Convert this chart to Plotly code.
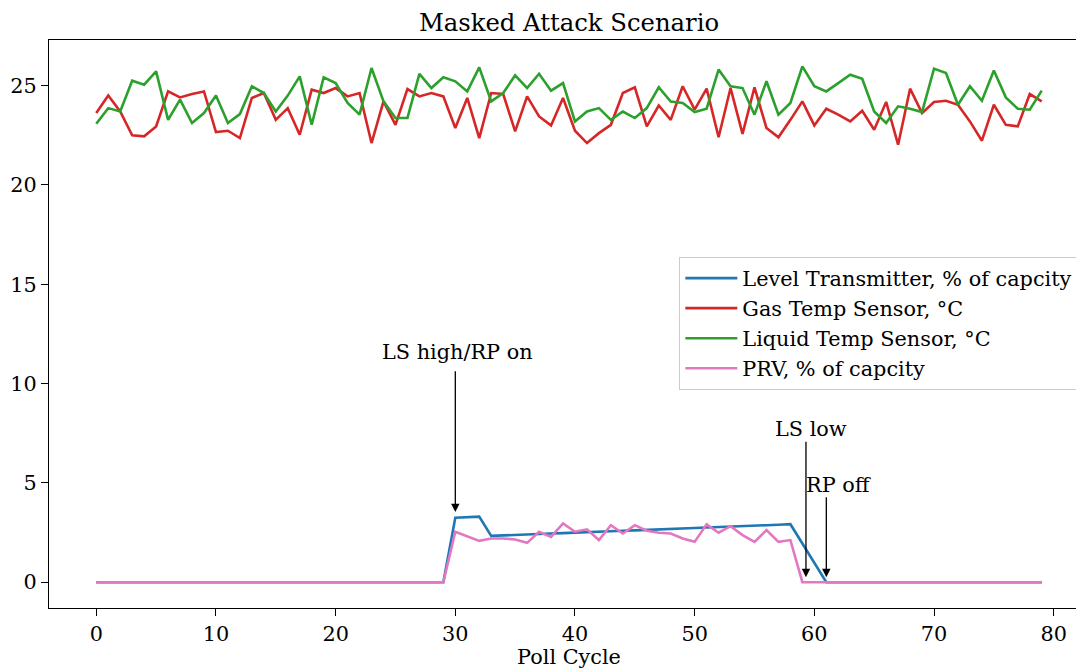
import plotly.graph_objects as go

poll_cycle = list(range(80))

level_transmitter = [0.0] * 30 + [
    3.25, 3.27, 3.30, 2.33, 2.36, 2.38, 2.40, 2.43, 2.45, 2.47,
    2.50, 2.52, 2.54, 2.57, 2.59, 2.61, 2.64, 2.66, 2.68, 2.71,
    2.73, 2.75, 2.78, 2.80, 2.82, 2.85, 2.87, 2.89, 2.92, 1.95,
    0.97, 0.0] + [0.0] * 18

gas_temp = [
    23.62, 24.51, 23.70, 22.50, 22.45, 22.95, 24.71, 24.41, 24.58, 24.71,
    22.66, 22.73, 22.36, 24.38, 24.63, 23.28, 23.87, 22.53, 24.80, 24.63,
    24.88, 24.46, 24.63, 22.11, 24.21, 23.03, 24.83, 24.46, 24.63, 24.46,
    22.87, 24.38, 22.36, 24.63, 24.58, 22.70, 24.46, 23.45, 23.00, 24.38,
    22.73, 22.11, 22.61, 23.03, 24.63, 24.92, 22.95, 24.00, 23.28, 24.97,
    23.79, 24.85, 22.40, 24.88, 22.57, 24.92, 22.87, 22.40, 23.28, 24.21,
    23.00, 23.84, 23.54, 23.20, 23.74, 22.78, 24.18, 22.03, 24.85, 23.62,
    24.18, 24.24, 24.04, 23.20, 22.23, 24.04, 23.03, 22.95, 24.58, 24.21]

liquid_temp = [
    23.08, 23.87, 23.70, 25.25, 25.05, 25.72, 23.28, 24.30, 23.12, 23.62,
    24.51, 23.12, 23.57, 24.97, 24.63, 23.70, 24.50, 25.47, 23.03, 25.42,
    25.13, 24.13, 23.54, 25.89, 24.21, 23.37, 23.37, 25.59, 24.88, 25.42,
    25.22, 24.71, 25.92, 24.21, 24.63, 25.52, 24.88, 25.60, 24.75, 25.13,
    23.20, 23.70, 23.87, 23.28, 23.70, 23.37, 23.87, 24.92, 24.20, 24.13,
    23.67, 23.84, 25.81, 24.97, 24.88, 23.54, 25.22, 23.54, 24.13, 25.97,
    24.97, 24.71, 25.13, 25.55, 25.35, 23.70, 23.12, 23.96, 23.84, 23.67,
    25.86, 25.64, 24.04, 24.97, 24.24, 25.76, 24.41, 23.84, 23.79, 24.75]

prv = [0.0] * 30 + [
    2.54, 2.30, 2.08, 2.20, 2.20, 2.15, 1.98, 2.54, 2.28, 2.96,
    2.54, 2.66, 2.12, 2.87, 2.45, 2.87, 2.59, 2.49, 2.45, 2.20,
    2.03, 2.91, 2.49, 2.82, 2.37, 2.03, 2.62, 2.03, 2.12, 0.0] + [0.0] * 20

series_names = ["Level Transmitter, % of capcity", "Gas Temp Sensor, °C",
                "Liquid Temp Sensor, °C", "PRV, % of capcity"]
series_colors = ["#1f77b4", "#d62728", "#2ca02c", "#e377c2"]

x_ticks = [0, 10, 20, 30, 40, 50, 60, 70, 80]
y_ticks = [0, 5, 10, 15, 20, 25]

# annotation labels: (text, arrow x, text center x, text y, arrow start y, arrow tip y)
annotations_data = [
    ("LS high/RP on", 30.0, 30.2, 11.6, 10.7, 3.53),
    ("LS low", 59.3, 59.7, 7.7, 7.15, 0.25),
    ("RP off", 61.0, 62.1, 4.9, 4.35, 0.25),
]

FONT = "DejaVu Serif"
FS = 20.8

# the page body adds an 8 px offset; the axes box runs past the right edge like the reference
W, H = 1084, 661

fig = go.Figure()
for name, color, ys in zip(series_names, series_colors,
                           [level_transmitter, gas_temp, liquid_temp, prv]):
    fig.add_trace(go.Scatter(x=poll_cycle, y=ys, mode="lines", name=name,
                             legendgroup=name,
                             line=dict(color=color, width=2.6)))

anns = []
for text, ax_x, tx, ty, y0, y1 in annotations_data:
    anns.append(dict(x=ax_x, y=y1, ax=ax_x, ay=y0, xref="x", yref="y",
                     axref="x", ayref="y", text="", showarrow=True,
                     arrowhead=2, arrowsize=1.3, arrowwidth=1.3,
                     arrowcolor="black"))
    anns.append(dict(x=tx, y=ty, xref="x", yref="y", text=text,
                     showarrow=False, font=dict(family=FONT, size=FS, color="black"),
                     xanchor="center", yanchor="middle"))

fig.update_layout(
    width=W, height=H,
    margin=dict(l=41, r=2.5, t=32, b=61),
    paper_bgcolor="white", plot_bgcolor="white",
    font=dict(family=FONT, size=FS, color="black"),
    title=dict(text="Masked Attack Scenario", x=0.5, xref="paper",
               xanchor="center", y=1 - 14 / H, yref="container",
               yanchor="middle", font=dict(family=FONT, size=24.3, color="black")),
    showlegend=True,
    legend=dict(x=0.6061, y=0.6178, xanchor="left", yanchor="top",
                bgcolor="rgba(255,255,255,0.8)", bordercolor="#cccccc",
                borderwidth=1, font=dict(family=FONT, size=FS, color="black"),
                tracegroupgap=0, itemwidth=52),
    annotations=anns,
)
fig.update_xaxes(range=[-3.95, 82.95], tickvals=x_ticks, showgrid=False,
                 zeroline=False, showline=True, linecolor="black", linewidth=1.3,
                 mirror=True, ticks="outside", ticklen=7, tickwidth=1.3,
                 tickcolor="black",
                 title=dict(text="Poll Cycle", standoff=2,
                            font=dict(family=FONT, size=FS)))
fig.update_yaxes(range=[-1.3, 27.3], tickvals=y_ticks, showgrid=False,
                 zeroline=False, showline=True, linecolor="black", linewidth=1.3,
                 mirror=False, ticks="outside", ticklen=7, tickwidth=1.3,
                 tickcolor="black")

fig.write_html("out.html")
